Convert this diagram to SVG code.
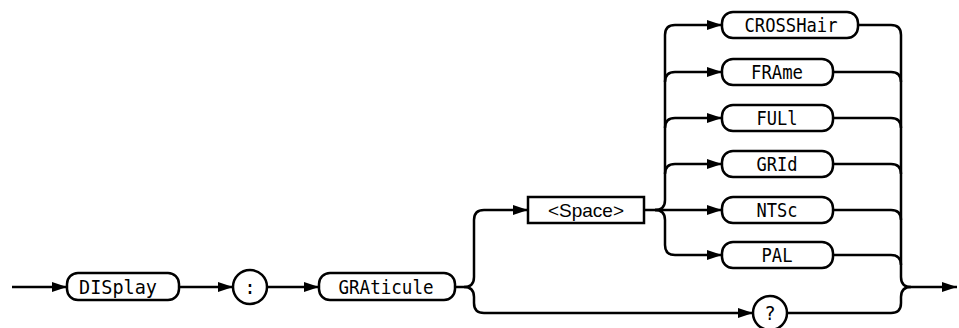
<svg xmlns="http://www.w3.org/2000/svg" width="959" height="328" viewBox="0 0 959 328">
<style>
.b{fill:#fff;stroke:#000;stroke-width:2.5}
.c path{fill:none;stroke:#000;stroke-width:2.5}
.t{font-family:"DejaVu Sans Mono","Liberation Mono",monospace;font-size:19px;text-anchor:middle;fill:#000}
.s{font-family:"Liberation Sans",Arial,sans-serif;font-size:19px;text-anchor:middle;fill:#000}
</style>
<defs>
<marker id="a" markerUnits="userSpaceOnUse" markerWidth="16" markerHeight="12" refX="15" refY="5" orient="auto">
<path d="M0,0 L15,5 L0,10 z" fill="#000"/>
</marker>
</defs>
<g class="c" id="connectors">
<path d="M12,287 H67" marker-end="url(#a)"/>
<path d="M179,287 H233" marker-end="url(#a)"/>
<path d="M267,287 H319" marker-end="url(#a)"/>
<path d="M455,287 H464 Q474,287 474,277 V220 Q474,210 484,210 H528" marker-end="url(#a)"/>
<path d="M464,287 Q474,287 474,297 V303 Q474,313 484,313 H753" marker-end="url(#a)"/>
<path d="M644,210 H722" marker-end="url(#a)"/>
<path d="M655,210 Q665,210 665,200 V35 Q665,25 675,25 H722" marker-end="url(#a)"/>
<path d="M655,210 Q665,210 665,220 V245 Q665,255 675,255 H722" marker-end="url(#a)"/>
<path d="M665,82 Q665,72 675,72 H722" marker-end="url(#a)"/>
<path d="M665,128 Q665,118 675,118 H722" marker-end="url(#a)"/>
<path d="M665,174 Q665,164 675,164 H722" marker-end="url(#a)"/>
<path d="M858,25 H891 Q901,25 901,35 V277 Q901,287 911,287"/>
<path d="M833,72 H891 Q901,72 901,82"/>
<path d="M833,118 H891 Q901,118 901,128"/>
<path d="M833,164 H891 Q901,164 901,174"/>
<path d="M833,210 H891 Q901,210 901,220"/>
<path d="M833,255 H891 Q901,255 901,265"/>
<path d="M787,313 H891 Q901,313 901,303 V297 Q901,287 911,287"/>
<path d="M911,287 H957" marker-end="url(#a)"/>
</g>
<g id="DISplay"><rect class="b" x="67" y="273" width="112" height="27" rx="11"/><text class="t" x="118" y="294" textLength="78" lengthAdjust="spacingAndGlyphs">DISplay</text></g>
<g id="colon"><circle class="b" cx="250" cy="287" r="17"/><text class="t" x="250" y="294">:</text></g>
<g id="GRAticule"><rect class="b" x="319" y="273" width="136" height="27" rx="11"/><text class="t" x="386" y="294" textLength="95" lengthAdjust="spacingAndGlyphs">GRAticule</text></g>
<g id="Space"><rect class="b" x="528" y="197" width="116" height="26"/><text class="s" x="586" y="217">&lt;Space&gt;</text></g>
<g id="CROSSHair"><rect class="b" x="722" y="12" width="136" height="26" rx="11"/><text class="t" x="791" y="32" textLength="93" lengthAdjust="spacingAndGlyphs">CROSSHair</text></g>
<g id="FRAme"><rect class="b" x="722" y="59" width="111" height="26" rx="11"/><text class="t" x="777" y="79" textLength="52" lengthAdjust="spacingAndGlyphs">FRAme</text></g>
<g id="FULl"><rect class="b" x="722" y="105" width="111" height="26" rx="11"/><text class="t" x="777" y="125" textLength="41" lengthAdjust="spacingAndGlyphs">FULl</text></g>
<g id="GRId"><rect class="b" x="722" y="151" width="111" height="26" rx="11"/><text class="t" x="777" y="171" textLength="41" lengthAdjust="spacingAndGlyphs">GRId</text></g>
<g id="NTSc"><rect class="b" x="722" y="197" width="111" height="26" rx="11"/><text class="t" x="777" y="217" textLength="41" lengthAdjust="spacingAndGlyphs">NTSc</text></g>
<g id="PAL"><rect class="b" x="722" y="242" width="111" height="26" rx="11"/><text class="t" x="777" y="262" textLength="31" lengthAdjust="spacingAndGlyphs">PAL</text></g>
<g id="query"><circle class="b" cx="770" cy="313" r="17"/><text class="t" x="770" y="320">?</text></g>
</svg>
